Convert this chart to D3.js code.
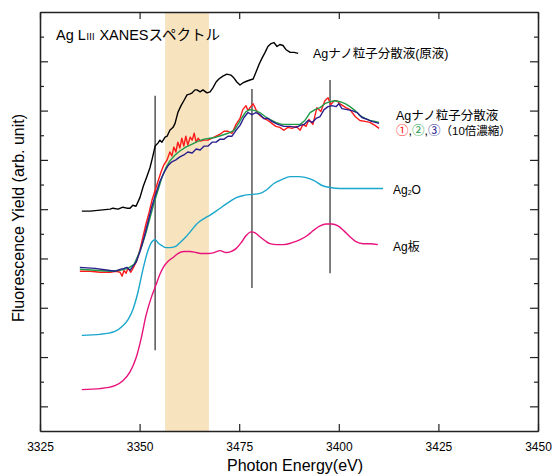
<!DOCTYPE html>
<html>
<head>
<meta charset="utf-8">
<script src="https://cdn.jsdelivr.net/npm/d3@7"></script>
<style>
  body { margin: 0; background: #fff; }
  svg text { font-family: "Liberation Sans", Arial, "Noto Sans CJK JP", sans-serif; }
</style>
</head>
<body>
<svg id="chart" width="555" height="476"></svg>
<script>
// ---- data (energy in eV, yield in arbitrary units) ----
const xTicks = [3325, 3350, 3375, 3400, 3425, 3450];
const xTickLabels = ["3325", "3350", "3475", "3400", "3425", "3450"]; // as printed on the original
const yMajor = [25, 75, 125, 175, 225, 275, 325, 375];
const yMinor = [50, 100, 150, 200, 250, 300, 350, 400];

const band = [3356.4, 3367.4];
const markerE = [3353.9, 3378.2, 3397.8];
const markerTop = [340, 347, 356];
const markerBottom = [82, 145, 160];

const stockE = [3335.5, 3337.6, 3340.1, 3342.6, 3343.3, 3344.6, 3345.8, 3346.8, 3347.6, 3348.3, 3349.1, 3350.1, 3350.9, 3351.9, 3352.6, 3353.1, 3353.9, 3354.6, 3355.1, 3355.6, 3356.4, 3356.9, 3357.6, 3358.4, 3358.9, 3359.6, 3360.4, 3361.1, 3361.9, 3362.7, 3363.2, 3363.9, 3364.4, 3365.2, 3365.9, 3366.9, 3367.7, 3368.4, 3369.2, 3369.9, 3370.9, 3371.9, 3372.9, 3373.7, 3374.4, 3375.2, 3375.9, 3377.0, 3377.7, 3378.5, 3379.2, 3380.0, 3380.7, 3381.5, 3382.2, 3383.0, 3383.7, 3384.5, 3385.2, 3386.0, 3386.7, 3387.8, 3388.8, 3389.8];
const stockY = [223, 223, 224, 225, 226, 225, 227, 226, 226, 229, 228, 237, 248, 259, 267, 275, 289, 292, 295, 293, 298, 299, 305, 308, 312, 323, 330, 335, 341, 342, 343, 346, 346, 344, 346, 343, 344, 348, 354, 357, 360, 362, 361, 358, 354, 351, 353, 355, 356, 357, 364, 372, 378, 384, 390, 393, 394, 390, 392, 391, 387, 384, 384, 383];

const s1E = [3335.0, 3337.6, 3340.1, 3342.6, 3344.1, 3345.1, 3345.6, 3346.1, 3346.6, 3347.1, 3347.8, 3348.6, 3349.3, 3350.1, 3350.9, 3351.6, 3352.4, 3353.1, 3353.9, 3354.6, 3355.4, 3356.1, 3356.9, 3357.6, 3358.1, 3358.6, 3359.1, 3359.6, 3360.1, 3360.6, 3361.1, 3361.6, 3362.1, 3362.7, 3363.2, 3363.7, 3364.2, 3364.7, 3365.2, 3366.2, 3367.2, 3368.2, 3369.2, 3370.2, 3371.2, 3372.2, 3373.2, 3374.2, 3375.2, 3375.9, 3376.7, 3377.2, 3377.7, 3378.5, 3379.2, 3380.2, 3381.2, 3382.2, 3383.2, 3384.2, 3385.2, 3386.2, 3387.2, 3388.3, 3389.3, 3390.3, 3391.0, 3391.8, 3392.5, 3393.5, 3394.5, 3395.5, 3396.5, 3397.3, 3398.0, 3398.8, 3399.5, 3400.6, 3401.8, 3402.8, 3404.1, 3405.3, 3406.6, 3407.8, 3409.1, 3410.1];
const s1Y = [162, 162, 161, 161, 162, 161, 157, 163, 160, 165, 161, 167, 173, 184, 198, 210, 222, 234, 244, 253, 263, 270, 275, 283, 279, 288, 283, 293, 287, 297, 289, 299, 290, 298, 295, 302, 293, 297, 294, 295, 295, 297, 299, 301, 304, 304, 302, 311, 317, 326, 330, 325, 328, 332, 326, 320, 317, 315, 312, 309, 308, 305, 308, 307, 309, 305, 311, 309, 316, 311, 328, 324, 335, 338, 331, 335, 335, 331, 328, 326, 319, 315, 314, 313, 310, 307];

const s2E = [3335.0, 3338.8, 3342.6, 3345.1, 3347.1, 3348.6, 3349.6, 3350.6, 3351.6, 3352.6, 3353.6, 3354.6, 3355.6, 3356.6, 3357.6, 3358.9, 3360.1, 3361.6, 3363.2, 3364.7, 3366.2, 3367.7, 3369.2, 3370.7, 3372.2, 3373.7, 3374.7, 3375.7, 3376.7, 3377.7, 3379.0, 3380.2, 3381.5, 3382.7, 3384.2, 3385.7, 3387.2, 3388.8, 3390.3, 3391.5, 3392.8, 3394.0, 3395.3, 3396.5, 3397.8, 3399.0, 3400.3, 3401.6, 3402.8, 3404.1, 3405.3, 3406.6, 3407.8, 3409.1, 3410.1];
const s2Y = [164, 163, 162, 163, 165, 169, 178, 188, 201, 216, 231, 244, 257, 267, 274, 280, 284, 288, 291, 294, 296, 297, 298, 300, 302, 305, 311, 318, 324, 326, 325, 323, 319, 316, 313, 311, 311, 311, 311, 315, 323, 326, 328, 332, 334, 335, 334, 332, 329, 325, 320, 317, 315, 314, 313];

const s3E = [3335.0, 3338.8, 3342.1, 3343.8, 3345.1, 3346.1, 3346.8, 3347.6, 3348.3, 3349.1, 3350.1, 3351.1, 3352.1, 3353.1, 3354.1, 3355.1, 3356.1, 3357.1, 3358.1, 3359.1, 3360.1, 3361.1, 3362.1, 3363.2, 3364.2, 3365.2, 3366.2, 3367.2, 3368.2, 3369.2, 3370.2, 3371.2, 3372.2, 3373.2, 3374.2, 3375.2, 3376.2, 3377.2, 3378.2, 3379.2, 3380.2, 3381.2, 3382.2, 3383.2, 3384.7, 3386.2, 3387.8, 3389.3, 3390.3, 3391.3, 3392.3, 3393.3, 3394.3, 3395.3, 3396.3, 3397.3, 3398.3, 3399.3, 3400.0, 3400.8, 3402.1, 3403.3, 3404.6, 3405.8, 3407.1, 3408.3, 3410.1];
const s3Y = [166, 165, 163, 162, 164, 165, 166, 163, 167, 171, 182, 196, 212, 228, 241, 253, 262, 269, 273, 275, 278, 280, 283, 282, 286, 285, 289, 289, 293, 293, 296, 296, 299, 299, 305, 310, 318, 323, 321, 323, 321, 317, 317, 314, 311, 309, 309, 308, 310, 311, 315, 313, 317, 319, 326, 329, 330, 329, 332, 327, 326, 325, 323, 318, 316, 314, 312];

const ag2oE = [3335.5, 3340.1, 3343.8, 3345.6, 3347.1, 3348.3, 3349.6, 3350.9, 3352.1, 3353.1, 3353.9, 3354.6, 3355.6, 3356.6, 3357.6, 3358.9, 3360.1, 3361.4, 3362.7, 3363.9, 3365.2, 3366.4, 3367.7, 3369.2, 3370.9, 3372.7, 3374.4, 3376.2, 3378.2, 3380.2, 3382.0, 3383.7, 3385.7, 3387.8, 3389.8, 3391.8, 3393.8, 3395.8, 3397.8, 3400.3, 3404.1, 3411.1];
const ag2oY = [97, 98, 101, 106, 113, 123, 141, 165, 183, 192, 194, 191, 188, 186, 186, 187, 191, 196, 202, 208, 213, 216, 219, 223, 228, 233, 237, 239, 240, 241, 245, 251, 255, 258, 258, 257, 254, 249, 247, 246, 246, 246];

const plateE = [3335.5, 3340.1, 3343.8, 3345.8, 3347.6, 3349.1, 3350.4, 3351.6, 3352.9, 3354.1, 3355.1, 3356.1, 3357.1, 3358.4, 3359.6, 3361.1, 3362.7, 3364.2, 3365.7, 3367.2, 3368.7, 3370.2, 3371.7, 3372.9, 3374.2, 3375.5, 3376.7, 3378.0, 3379.0, 3380.2, 3381.5, 3382.7, 3384.5, 3386.2, 3388.3, 3390.3, 3392.0, 3393.8, 3395.3, 3396.8, 3398.3, 3399.8, 3401.3, 3402.8, 3404.3, 3406.1, 3407.8, 3409.8];
const plateY = [42, 43, 46, 51, 60, 74, 94, 117, 135, 148, 159, 167, 172, 176, 180, 182, 182, 181, 180, 180, 181, 183, 181, 182, 185, 191, 198, 202, 201, 197, 193, 190, 189, 189, 191, 194, 198, 204, 208, 210, 210, 208, 203, 197, 192, 190, 190, 189];

// ---- layout ----
const margin = { left: 40, right: 17, top: 12, bottom: 45 };
const W = 555, H = 476;

const xScale = d3.scaleLinear()
    .domain([3325, 3450])
    .range([margin.left, W - margin.right]);

const yScale = d3.scaleLinear()
    .domain([0, 425])
    .range([H - margin.bottom, margin.top]);

const Fig = d3.select("#chart");

// shaded energy window
Fig.append("rect")
    .attr("x", xScale(band[0]))
    .attr("y", margin.top)
    .attr("width", xScale(band[1]) - xScale(band[0]))
    .attr("height", yScale(0) - margin.top)
    .attr("fill", "#f8e3bf");

// vertical guide lines
markerE.forEach((e, i) => {
    Fig.append("line")
        .attr("x1", xScale(e)).attr("x2", xScale(e))
        .attr("y1", yScale(markerTop[i])).attr("y2", yScale(markerBottom[i]))
        .attr("stroke", "#555")
        .attr("stroke-width", 1.5);
});

// spectra
const series = [
    { E: plateE, Y: plateY, color: "#e8127c", smooth: true },
    { E: ag2oE, Y: ag2oY, color: "#1aa6cc", smooth: true },
    { E: stockE, Y: stockY, color: "#000000", smooth: false },
    { E: s1E, Y: s1Y, color: "#ff1a1a", smooth: false },
    { E: s2E, Y: s2Y, color: "#1f9a4a", smooth: false },
    { E: s3E, Y: s3Y, color: "#2a1e8c", smooth: false }
];

series.forEach(s => {
    const pts = s.E.map((e, i) => [e, s.Y[i]]);
    const line = d3.line()
        .x(d => xScale(d[0]))
        .y(d => yScale(d[1]))
        .curve(s.smooth ? d3.curveMonotoneX : d3.curveLinear);
    Fig.append("path")
        .datum(pts)
        .attr("d", line)
        .attr("fill", "none")
        .attr("stroke", s.color)
        .attr("stroke-width", 1.4)
        .attr("stroke-linejoin", "round");
});

// axes (ticks point inward)
const xBottom = d3.axisBottom(xScale).tickValues(xTicks).tickSize(-7).tickSizeOuter(0)
    .tickPadding(11).tickFormat((d, i) => xTickLabels[i]);
const xTop = d3.axisTop(xScale).tickValues(xTicks).tickSize(-7).tickSizeOuter(0).tickFormat("");

const gx = Fig.append("g")
    .attr("transform", `translate(0,${yScale(0)})`)
    .call(xBottom);
gx.selectAll("text").style("font-size", "12px").attr("fill", "#000");

Fig.append("g")
    .attr("transform", `translate(0,${margin.top})`)
    .call(xTop);

const yl1 = d3.axisLeft(yScale).tickValues(yMajor).tickSize(-8).tickSizeOuter(0).tickFormat("");
const yl2 = d3.axisLeft(yScale).tickValues(yMinor).tickSize(-4).tickSizeOuter(0).tickFormat("");
const yr1 = d3.axisRight(yScale).tickValues(yMajor).tickSize(-8).tickSizeOuter(0).tickFormat("");
const yr2 = d3.axisRight(yScale).tickValues(yMinor).tickSize(-4).tickSizeOuter(0).tickFormat("");

[yl1, yl2].forEach(a => Fig.append("g").attr("transform", `translate(${margin.left},0)`).call(a));
[yr1, yr2].forEach(a => Fig.append("g").attr("transform", `translate(${W - margin.right},0)`).call(a));

Fig.selectAll(".domain").attr("stroke", "#222").attr("stroke-width", 1.3);
Fig.selectAll(".tick line").attr("stroke", "#222").attr("stroke-width", 1.2);

// axis titles
Fig.append("text")
    .attr("x", 295).attr("y", 471)
    .attr("text-anchor", "middle")
    .style("font-size", "16px")
    .text("Photon Energy(eV)");

Fig.append("g")
    .attr("transform", `translate(${24},${218}) rotate(270)`)
    .append("text")
    .attr("text-anchor", "middle")
    .style("font-size", "16px")
    .text("Fluorescence Yield (arb. unit)");

// title
const title = Fig.append("text")
    .attr("x", 56).attr("y", 40)
    .style("font-size", "14.5px");
title.append("tspan").text("Ag L");
title.append("tspan").style("font-size", "9.5px").text("Ⅲ");
title.append("tspan").text(" XANESスペクトル");

// curve labels
const labels = [
    { x: 313, y: 58, text: "Agナノ粒子分散液(原液)" },
    { x: 396, y: 120, text: "Agナノ粒子分散液" }
];
labels.forEach(l => {
    Fig.append("text")
        .attr("x", l.x).attr("y", l.y)
        .style("font-size", "12.5px")
        .text(l.text);
});

const conc = Fig.append("text")
    .attr("x", 396).attr("y", 135)
    .style("font-size", "12.5px");
conc.append("tspan").attr("fill", "#ff1a1a").text("①");
conc.append("tspan").text(",");
conc.append("tspan").attr("fill", "#1f9a4a").text("②");
conc.append("tspan").text(",");
conc.append("tspan").attr("fill", "#2a1e8c").text("③");
conc.append("tspan").style("font-size", "11.5px").text("（10倍濃縮）");

const ag2o = Fig.append("text")
    .attr("x", 393).attr("y", 194)
    .style("font-size", "12px");
ag2o.append("tspan").text("Ag");
ag2o.append("tspan").style("font-size", "7px").attr("dy", 1).text("2");
ag2o.append("tspan").attr("dy", -1).text("O");

Fig.append("text")
    .attr("x", 393).attr("y", 251)
    .style("font-size", "12px")
    .text("Ag板");
</script>
</body>
</html>
